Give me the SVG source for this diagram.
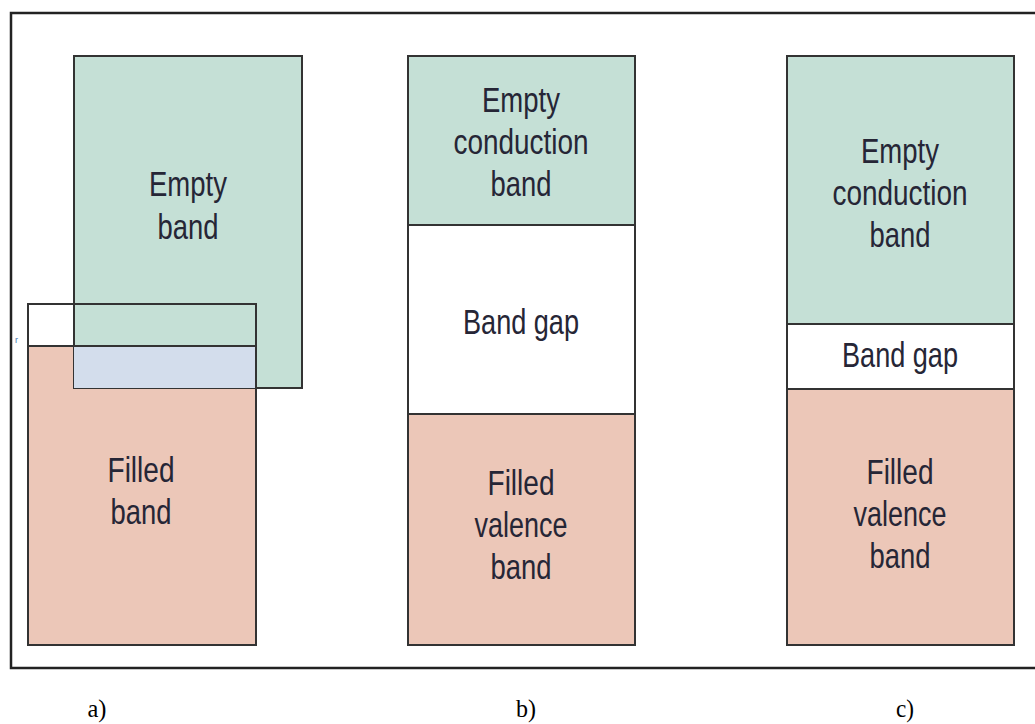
<svg xmlns="http://www.w3.org/2000/svg" width="1035" height="724" viewBox="0 0 1035 724">
<style>
.box{stroke:#333;stroke-width:2}
.empty{fill:#c5e0d6}
.filled{fill:#ecc7b8}
.gap{fill:#ffffff}
.overlap{fill:#d3ddec}
.t{font-family:"Liberation Sans",Arial,sans-serif;font-size:35px;fill:#262636;text-anchor:middle}
.lbl{font-family:"Liberation Serif",serif;font-size:25px;fill:#000;text-anchor:middle}
</style>
<rect width="1035" height="724" fill="#fff"/>
<g id="frame">
<path d="M1040,13 H11 V668 H1040" fill="none" stroke="#222" stroke-width="2.5"/>
</g>
<g id="panel-a">
<rect x="28" y="304" width="228" height="42" class="gap box"/>
<rect x="28" y="346" width="228" height="299" class="filled box"/>
<rect x="74" y="56" width="228" height="332" class="empty box"/>
<rect x="74" y="346" width="182" height="42" class="overlap"/>
<path d="M28,304 H256 V645 M28,346 H256" fill="none" class="box"/>
<text x="188" y="196" class="t" textLength="78" lengthAdjust="spacingAndGlyphs">Empty</text>
<text x="188" y="239" class="t" textLength="61" lengthAdjust="spacingAndGlyphs">band</text>
<text x="141" y="482" class="t" textLength="67" lengthAdjust="spacingAndGlyphs">Filled</text>
<text x="141" y="524" class="t" textLength="61" lengthAdjust="spacingAndGlyphs">band</text>
<text x="15" y="343" font-family="Liberation Sans,sans-serif" font-size="9" fill="#4a7ab0">r</text>
</g>
<g id="panel-b">
<rect x="408" y="56" width="227" height="169" class="empty box"/>
<rect x="408" y="225" width="227" height="189" class="gap box"/>
<rect x="408" y="414" width="227" height="231" class="filled box"/>
<text x="521" y="112" class="t" textLength="78" lengthAdjust="spacingAndGlyphs">Empty</text>
<text x="521" y="154" class="t" textLength="135" lengthAdjust="spacingAndGlyphs">conduction</text>
<text x="521" y="196" class="t" textLength="61" lengthAdjust="spacingAndGlyphs">band</text>
<text x="521" y="334" class="t" textLength="116" lengthAdjust="spacingAndGlyphs">Band gap</text>
<text x="521" y="495" class="t" textLength="67" lengthAdjust="spacingAndGlyphs">Filled</text>
<text x="521" y="537" class="t" textLength="93" lengthAdjust="spacingAndGlyphs">valence</text>
<text x="521" y="579" class="t" textLength="61" lengthAdjust="spacingAndGlyphs">band</text>
</g>
<g id="panel-c">
<rect x="787" y="56" width="227" height="268" class="empty box"/>
<rect x="787" y="324" width="227" height="65" class="gap box"/>
<rect x="787" y="389" width="227" height="256" class="filled box"/>
<text x="900" y="163" class="t" textLength="78" lengthAdjust="spacingAndGlyphs">Empty</text>
<text x="900" y="205" class="t" textLength="135" lengthAdjust="spacingAndGlyphs">conduction</text>
<text x="900" y="247" class="t" textLength="61" lengthAdjust="spacingAndGlyphs">band</text>
<text x="900" y="367" class="t" textLength="116" lengthAdjust="spacingAndGlyphs">Band gap</text>
<text x="900" y="484" class="t" textLength="67" lengthAdjust="spacingAndGlyphs">Filled</text>
<text x="900" y="526" class="t" textLength="93" lengthAdjust="spacingAndGlyphs">valence</text>
<text x="900" y="568" class="t" textLength="61" lengthAdjust="spacingAndGlyphs">band</text>
</g>
<g id="connectors"></g>
<g id="labels">
<text x="97" y="717" class="lbl" textLength="19" lengthAdjust="spacingAndGlyphs">a)</text>
<text x="526" y="717" class="lbl" textLength="20" lengthAdjust="spacingAndGlyphs">b)</text>
<text x="905" y="717" class="lbl" textLength="18" lengthAdjust="spacingAndGlyphs">c)</text>
</g>
</svg>
